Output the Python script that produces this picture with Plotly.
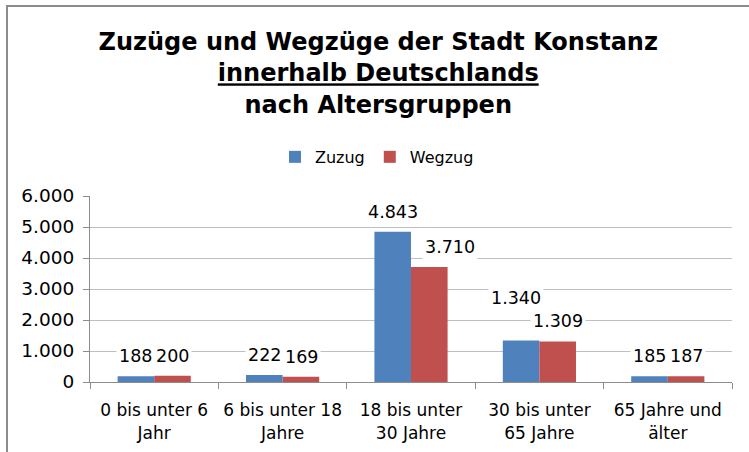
import plotly.graph_objects as go

categories = ["0 bis unter 6<br>Jahr", "6 bis unter 18<br>Jahre", "18 bis unter<br>30 Jahre",
              "30 bis unter<br>65 Jahre", "65 Jahre und<br>älter"]
zuzug = [188, 222, 4843, 1340, 185]
wegzug = [200, 169, 3710, 1309, 187]
series_names = ["Zuzug", "Wegzug"]
colors = ["#4F81BD", "#C0504D"]
y_ticks = [0, 1000, 2000, 3000, 4000, 5000, 6000]

def fmt(v):
    return f"{v:,}".replace(",", ".")

FONT = "DejaVu Sans, Liberation Sans, Arial, sans-serif"

fig = go.Figure()
for name, vals, col in zip(series_names, [zuzug, wegzug], colors):
    fig.add_trace(go.Bar(x=categories, y=vals, name=name, marker_color=col,
                         marker_line_width=0))

# label placement tweaks (style only): extra lift / sideways nudge for crowded labels
extra_lift = {(0, 3): 22}
extra_x = {(0, 3): -5, (1, 2): 20}

annotations = []
for si, (vals, shift) in enumerate([(zuzug, -18.5), (wegzug, 18.5)]):
    for ci, (c, v) in enumerate(zip(categories, vals)):
        annotations.append(dict(x=c, y=v, xref="x", yref="y", text=fmt(v), showarrow=False,
                                xshift=shift + extra_x.get((si, ci), 0),
                                yshift=7 + extra_lift.get((si, ci), 0),
                                yanchor="bottom", bgcolor="white",
                                borderpad=2, font=dict(size=17.5, color="#000", family=FONT)))

fig.update_layout(
    width=749, height=452,
    margin=dict(l=90, r=17, t=196, b=70),
    paper_bgcolor="white", plot_bgcolor="white",
    separators=",.",
    barmode="group", bargap=0.43, bargroupgap=0,
    font=dict(family=FONT, size=17, color="#000"),
    title=dict(text="<b>Zuzüge und Wegzüge der Stadt Konstanz<br><u>innerhalb Deutschlands</u><br>nach Altersgruppen</b>",
               x=0.505, xanchor="center", y=0.889, yanchor="top",
               font=dict(size=24, family=FONT, color="#000")),
    legend=dict(orientation="h", x=0.447, xanchor="center", y=1.21, yanchor="middle",
                font=dict(size=16, family=FONT), itemwidth=30, traceorder="normal"),
    annotations=annotations,
    shapes=[dict(type="rect", xref="paper", yref="paper", x0=-0.1293, x1=1.2, y0=-1, y1=2.0215,
                 line=dict(color="#8c8c8c", width=2), layer="below")],
)
fig.update_yaxes(range=[0, 6000], tickvals=y_ticks, tickformat=",", showgrid=True,
                 gridcolor="#bfbfbf", gridwidth=1, showline=True, linecolor="#8c8c8c",
                 ticks="outside", ticklen=6, tickcolor="#8c8c8c", zeroline=False,
                 tickfont=dict(size=18.5), ticklabelstandoff=5, automargin=False)
fig.update_xaxes(showline=True, linecolor="#8c8c8c", ticks="outside", ticklen=6,
                 tickcolor="#8c8c8c", tickson="boundaries", tickfont=dict(size=17),
                 ticklabelstandoff=13, automargin=False)

fig.write_html("out.html", config={"displayModeBar": False},
               post_script="document.body.style.margin='0';document.body.style.overflow='hidden';")
